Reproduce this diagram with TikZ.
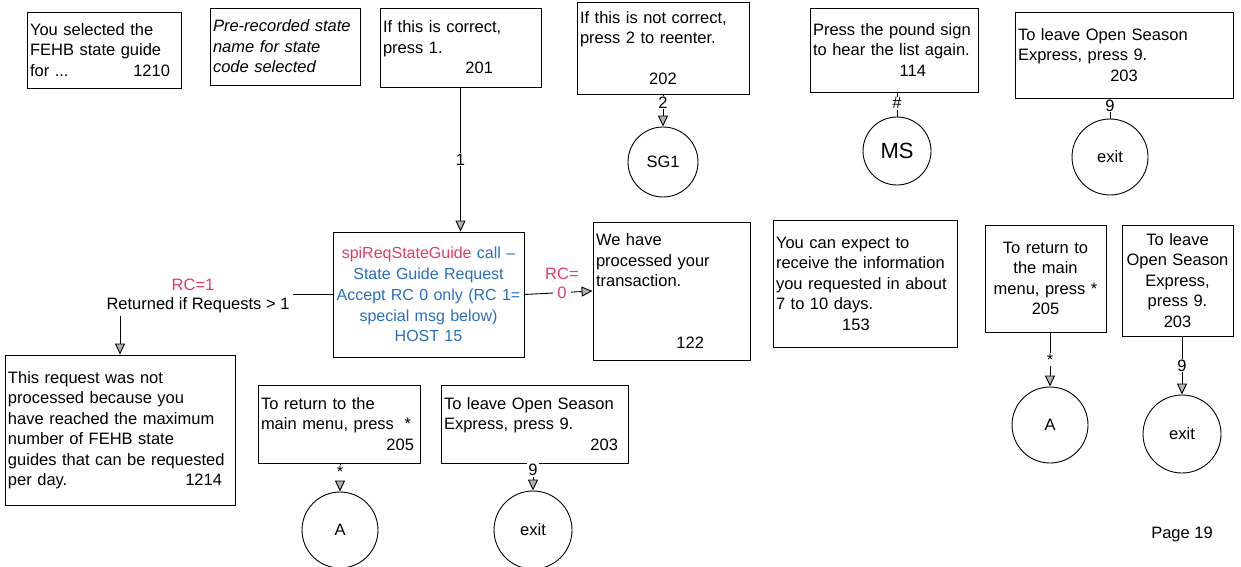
\documentclass[tikz,border=0pt]{standalone}
\usepackage{xcolor}
\usepackage{fontspec}
\setmainfont{Liberation Sans}
\usetikzlibrary{shapes,arrows.meta,positioning,calc}
\definecolor{rcpink}{RGB}{226,60,100}
\definecolor{hostblue}{RGB}{40,110,190}
\hyphenpenalty=10000

\begin{document}
\begin{tikzpicture}[x=1pt, y=-1pt, line width=0.9pt,
    every node/.style={font=\fontsize{16.5}{20.5}\selectfont},
    box/.style 2 args={draw, rectangle, align=left, inner xsep=3pt, inner ysep=0pt, text width=#1, minimum height=#2},
    circ/.style={draw, circle, inner sep=0pt, minimum size=#1},
    arr/.style={-{Triangle[length=11pt, width=10pt, fill=gray!60]}},
    lbl/.style={fill=white, inner sep=1pt}]
    \useasboundingbox (0,0) rectangle (1241,567);

    % Top row prompts
    \node[box={148pt}{76pt}] (b1210) at (104,50) {You selected the\\FEHB state guide\\for ...\hfill 1210\hspace*{8pt}\mbox{}};
    \node[box={144pt}{77pt}, font=\fontsize{16.5}{20.5}\selectfont\itshape] (bstate) at (285,46.5) {Pre-recorded state\\name for state\\code selected};
    \node[box={155pt}{79pt}] (b201) at (460.5,47.5) {If this is correct,\\press 1.\\\hfill 201\hspace*{45pt}\mbox{}};
    \node[box={166pt}{92pt}] (b202) at (663,48) {If this is not correct,\\press 2 to reenter.\\\mbox{}\\\hfill 202\hfill\mbox{}};
    \node[box={162pt}{84pt}] (b114) at (894,50) {Press the pound sign\\to hear the list again.\\\hfill 114\hspace*{49pt}\mbox{}};
    \node[box={212pt}{86pt}] (b203a) at (1124,55) {To leave Open Season\\Express, press 9.\\\hfill 203\hfill\mbox{}};

    \node[circ=70pt] (sg1) at (663,162) {SG1};
    \node[circ=68pt, font=\fontsize{22}{24}\selectfont] (ms) at (897,151) {MS};
    \node[circ=76pt] (exita) at (1110,157) {exit};

    % Host call and results
    \node[box={189pt}{125pt}, inner xsep=1pt, align=center, text=hostblue, font=\fontsize{16}{20.8}\selectfont] (bhost) at (428.5,294.5) {\textcolor{rcpink}{spiReqStateGuide} call --\\State Guide Request\\Accept RC 0 only (RC 1=\\special msg below)\\HOST 15};
    \node[box={151pt}{138pt}] (b122) at (671.5,291) {We have\\processed your\\transaction.\\\mbox{}\\\mbox{}\\\hfill 122\hspace*{43pt}\mbox{}};
    \node[box={178pt}{127pt}] (b153) at (865,283.5) {You can expect to\\receive the information\\you requested in about\\7 to 10 days.\\\hfill 153\hspace*{18pt}\hfill\mbox{}};
    \node[box={115pt}{107pt}, align=center] (b205r) at (1045.5,278.5) {To return to\\the main\\menu, press *\\205};
    \node[box={105pt}{111pt}, align=center] (b203r) at (1177.5,280.5) {To leave\\Open Season\\Express,\\press 9.\\203};

    \node[text=rcpink] (rc1lbl) at (193,285) {RC=1};
    \node (rc1) at (198,305) {Returned if Requests > 1};

    \node[circ=76pt] (ar) at (1050,425) {A};
    \node[circ=78pt] (exitr) at (1182,434) {exit};

    % Bottom row
    \node[box={224pt}{150pt}] (b1214) at (120,430) {This request was not\\processed because you\\have reached the maximum\\number of FEHB state\\guides that can be requested\\per day.\hfill 1214\hspace*{10pt}\mbox{}};
    \node[box={156pt}{78pt}] (b205) at (339,424) {To return to the\\main menu, press\hfill *\hspace*{6pt}\mbox{}\\\hfill 205\hspace*{3pt}\mbox{}};
    \node[box={181pt}{78pt}] (b203b) at (534.5,424) {To leave Open Season\\Express, press 9.\\\hfill 203\hspace*{7pt}\mbox{}};

    \node[circ=76pt] (ab) at (340,530) {A};
    \node[circ=78pt] (exitb) at (533,530) {exit};

    \node (page) at (1182,534) {Page 19};

    % Connectors
    \draw[arr] (b201.south) -- node[lbl] {1} (b201.south |- bhost.north);
    \draw[arr] (b202.south) -- node[lbl, pos=0.25] {2} (sg1.north);
    \draw (ms.north |- b114.south) -- node[lbl, pos=0.45] {\#} (ms.north);
    \draw (exita.north |- b203a.south) -- node[lbl, pos=0.35] {9} (exita.north);

    \draw (bhost.west) -- (bhost.west -| rc1.east);
    \draw[arr] (b1214.north |- rc1.south) -- (b1214.north);
    \draw[arr] (bhost.east) -- node[lbl, pos=0.55, inner xsep=4pt, text=rcpink, label={[text=rcpink, label distance=2pt]above:RC=}] (rc0) {0} (b122.west);

    \draw[arr] (ar.north |- b205r.south) -- node[lbl, pos=0.5] {*} (ar.north);
    \draw[arr] (exitr.north |- b203r.south) -- node[lbl, pos=0.5] {9} (exitr.north);

    \draw[arr, dashed] (ab.north |- b205.south) -- node[lbl, pos=0.3] {*} (ab.north);
    \draw[arr] (exitb.north |- b203b.south) -- node[lbl, pos=0.25] {9} (exitb.north);
\end{tikzpicture}
\end{document}
